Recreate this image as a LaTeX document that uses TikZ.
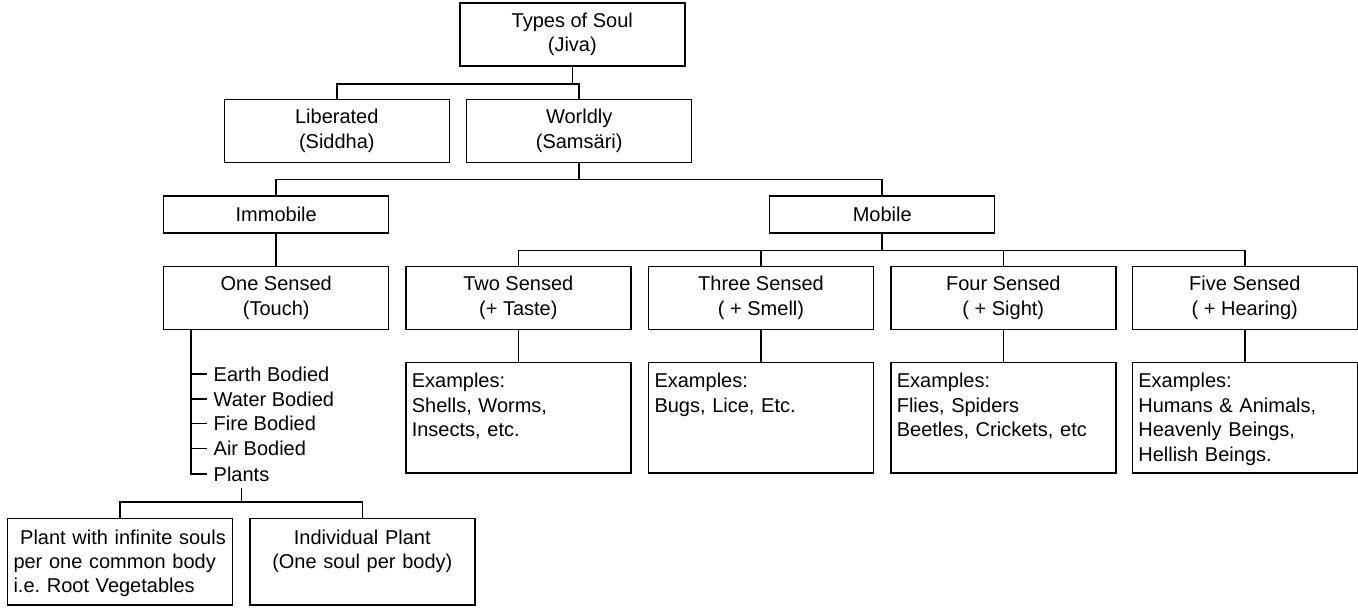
\documentclass[tikz,border=0pt]{standalone}
\usepackage{fontspec}
\setmainfont{Liberation Sans}
\usepackage{tikz}
\usetikzlibrary{positioning, calc}
\tikzset{
    box/.style={rectangle, draw=black, line width=0.75pt, minimum width=112.5pt, minimum height=31.5pt, align=center, inner sep=0pt, font=\fontsize{10}{12.25}\selectfont},
    flatbox/.style={box, minimum height=18.5pt},
    exbox/.style={rectangle, draw=black, line width=0.75pt, text width=106.5pt, align=left, inner xsep=3pt, inner ysep=0pt, text height=12.6pt, text depth=42.6pt, font=\fontsize{10}{12.2}\selectfont},
    plantbox/.style={exbox, text height=12.85pt, text depth=30.45pt},
    item/.style={anchor=west, inner sep=3pt, font=\fontsize{10}{12.25}\selectfont},
    link/.style={line width=0.75pt, black}
}
\begin{document}
\begin{tikzpicture}[x=0.5pt, y=-0.5pt]
        \useasboundingbox (0,0) rectangle (1358,609);

        % Top
        \node[box] (soul) at (572.3, 34.5) {Types of Soul\\(Jiva)};

        % Liberated / Worldly
        \node[box] (lib) at (336.8, 130.8) {Liberated\\(Siddha)};
        \node[box] (world) at (579.2, 130.8) {Worldly\\(Samsäri)};

        % Immobile / Mobile
        \node[flatbox] (immob) at (276.2, 214.7) {Immobile};
        \node[flatbox] (mob) at (882.2, 214.7) {Mobile};

        % Senses
        \node[box] (one) at (276.2, 298) {One Sensed\\(Touch)};
        \node[box] (two) at (518.3, 298) {Two Sensed\\(+ Taste)};
        \node[box] (three) at (761, 298) {Three Sensed\\( + Smell)};
        \node[box] (four) at (1003.3, 298) {Four Sensed\\( + Sight)};
        \node[box] (five) at (1244.8, 298) {Five Sensed\\( + Hearing)};

        % Examples
        \node[exbox] (ex2) at (518.3, 417.9) {Examples:\\Shells, Worms,\\Insects, etc.};
        \node[exbox] (ex3) at (761, 417.9) {Examples:\\Bugs, Lice, Etc.};
        \node[exbox] (ex4) at (1003.3, 417.9) {Examples:\\Flies, Spiders\\Beetles, Crickets, etc};
        \node[exbox] (ex5) at (1244.8, 417.9) {Examples:\\Humans \& Animals,\\Heavenly Beings,\\Hellish Beings.};

        % One sensed list
        \node[item] (earth) at (207.3, 374) {Earth Bodied};
        \node[item] (water) at (207.3, 399) {Water Bodied};
        \node[item] (fire) at (207.3, 423.5) {Fire Bodied};
        \node[item] (air) at (207.3, 448.3) {Air Bodied};
        \node[item] (plants) at (207.3, 474) {Plants};
        \coordinate (trunk) at ([xshift=14pt]one.south west);

        % Plants
        \node[plantbox] (inf) at (120, 561.7) {\ Plant with infinite souls\\per one common body\\i.e.\ Root Vegetables};
        \node[plantbox, align=center] (indiv) at (362.3, 561.7) {Individual Plant\\(One soul per body)};

        % Connectors
        \draw[link] (soul.south) -- ++(0,17.3) -| (lib.north);
        \draw[link] (soul.south) -- ++(0,17.3) -| (world.north);
        \draw[link] (world.south) -- ++(0,16.7) -| (immob.north);
        \draw[link] (world.south) -- ++(0,16.7) -| (mob.north);
        \draw[link] (immob) -- (one);
        \foreach \s in {two, three, four, five}
            \draw[link] (mob.south) -- ++(0,16.7) -| (\s.north);
        \draw[link] (two) -- (ex2);
        \draw[link] (three) -- (ex3);
        \draw[link] (four) -- (ex4);
        \draw[link] (five) -- (ex5);
        \draw[link] (trunk) |- (plants.west);
        \foreach \s in {earth, water, fire, air}
            \draw[link] (\s.west) -- (\s.west -| trunk);
        \draw[link] (plants.south) -- ++(0,14.5) -| (inf.north);
        \draw[link] (plants.south) -- ++(0,14.5) -| (indiv.north);
    \end{tikzpicture}
\end{document}
